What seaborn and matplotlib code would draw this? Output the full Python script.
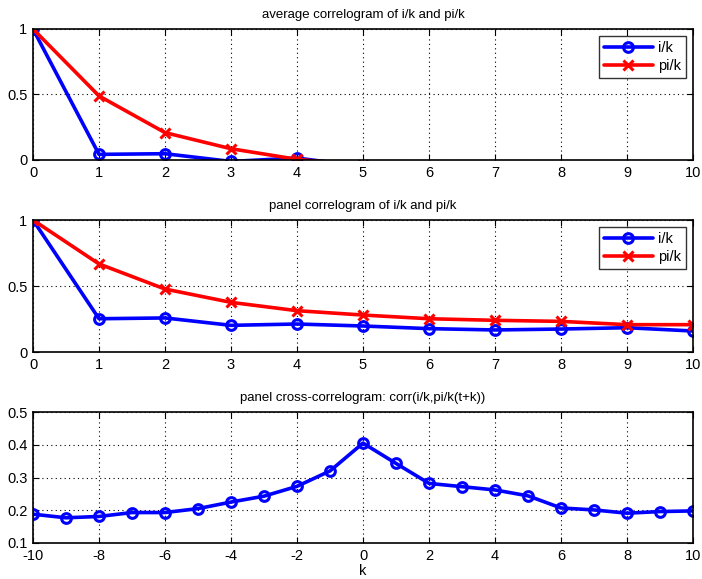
import numpy as np
import pandas as pd
import matplotlib
matplotlib.use('Agg')
import matplotlib.pyplot as plt
import seaborn as sns

# data
lags = list(range(0, 11))
avg_ik = [1.0, 0.043, 0.048, -0.011, 0.015, -0.05, -0.06, -0.05, -0.07, -0.06, -0.05]
avg_pik = [1.0, 0.489, 0.209, 0.086, 0.005, -0.04, -0.06, -0.07, -0.08, -0.07, -0.08]

panel_ik = [1.0, 0.252, 0.258, 0.202, 0.212, 0.197, 0.177, 0.167, 0.174, 0.184, 0.159]
panel_pik = [1.0, 0.667, 0.477, 0.376, 0.313, 0.28, 0.252, 0.24, 0.232, 0.207, 0.207]

cross_lags = list(range(-10, 11))
cross_corr = [0.188, 0.177, 0.181, 0.193, 0.193, 0.205, 0.225, 0.243, 0.273, 0.32,
              0.405, 0.343, 0.282, 0.272, 0.262, 0.244, 0.207, 0.201, 0.191, 0.196, 0.198]

sns.set_style('ticks')
plt.rcParams['font.family'] = ['Liberation Sans', 'DejaVu Sans']
plt.rcParams['axes.unicode_minus'] = False
plt.rcParams['text.color'] = 'black'
plt.rcParams['xtick.color'] = 'black'
plt.rcParams['ytick.color'] = 'black'
plt.rcParams['axes.labelcolor'] = 'black'
plt.rcParams['axes.edgecolor'] = 'black'

fig = plt.figure(figsize=(7.02, 5.79), dpi=100)
W, H = 702, 579
def add_ax(top, bottom):
    return fig.add_axes([33 / W, 1 - bottom / H, (693 - 33) / W, (bottom - top) / H])

ax1 = add_ax(29, 160)
ax2 = add_ax(220, 352)
ax3 = add_ax(412, 543)

line_kw = dict(linewidth=2.6, markersize=7, markeredgewidth=2.2)

def style(ax, title):
    ax.set_title(title, fontsize=9.5, pad=8, color='black')
    ax.grid(True, linestyle=(0, (1, 3)), color='black', linewidth=0.8)
    ax.tick_params(direction='in', top=True, right=True, labelsize=10.5, length=4, pad=4)
    for s in ax.spines.values():
        s.set_linewidth(1.2)
        s.set_visible(True)
    ax.set_xlabel('')
    ax.set_ylabel('')

def corr_panel(ax, ik, pik, title):
    df = pd.DataFrame({'k': lags + lags, 'v': ik + pik,
                       's': ['i/k'] * len(lags) + ['pi/k'] * len(lags)})
    sns.lineplot(data=df[df.s == 'i/k'], x='k', y='v', ax=ax, color='blue', marker='o',
                 markerfacecolor='none', markeredgecolor='blue', label='i/k', **line_kw)
    sns.lineplot(data=df[df.s == 'pi/k'], x='k', y='v', ax=ax, color='red', marker='x',
                 markeredgecolor='red', label='pi/k', **line_kw)
    ax.set_xlim(0, 10)
    ax.set_ylim(0, 1)
    ax.set_xticks(range(0, 11))
    ax.set_yticks([0, 0.5, 1])
    ax.set_yticklabels(['0', '0.5', '1'])
    style(ax, title)
    leg = ax.legend(loc='upper right', fontsize=10.5, frameon=True, fancybox=False,
                    edgecolor='black', handlelength=3.4, borderpad=0.35, labelspacing=0.25,
                    handletextpad=0.3, borderaxespad=0.5)
    leg.get_frame().set_linewidth(1.0)

corr_panel(ax1, avg_ik, avg_pik, 'average correlogram of i/k and pi/k')
corr_panel(ax2, panel_ik, panel_pik, 'panel correlogram of i/k and pi/k')

cross = pd.DataFrame({'k': cross_lags, 'c': cross_corr})
sns.lineplot(data=cross, x='k', y='c', ax=ax3, color='blue', marker='o',
             markerfacecolor='none', markeredgecolor='blue', **line_kw)
ax3.set_xlim(-10, 10)
ax3.set_ylim(0.1, 0.5)
ax3.set_xticks(range(-10, 11, 2))
ax3.set_yticks([0.1, 0.2, 0.3, 0.4, 0.5])
style(ax3, 'panel cross-correlogram: corr(i/k,pi/k(t+k))')
ax3.set_xlabel('k', fontsize=10.5, labelpad=1)

fig.savefig('out.png', dpi=100)
